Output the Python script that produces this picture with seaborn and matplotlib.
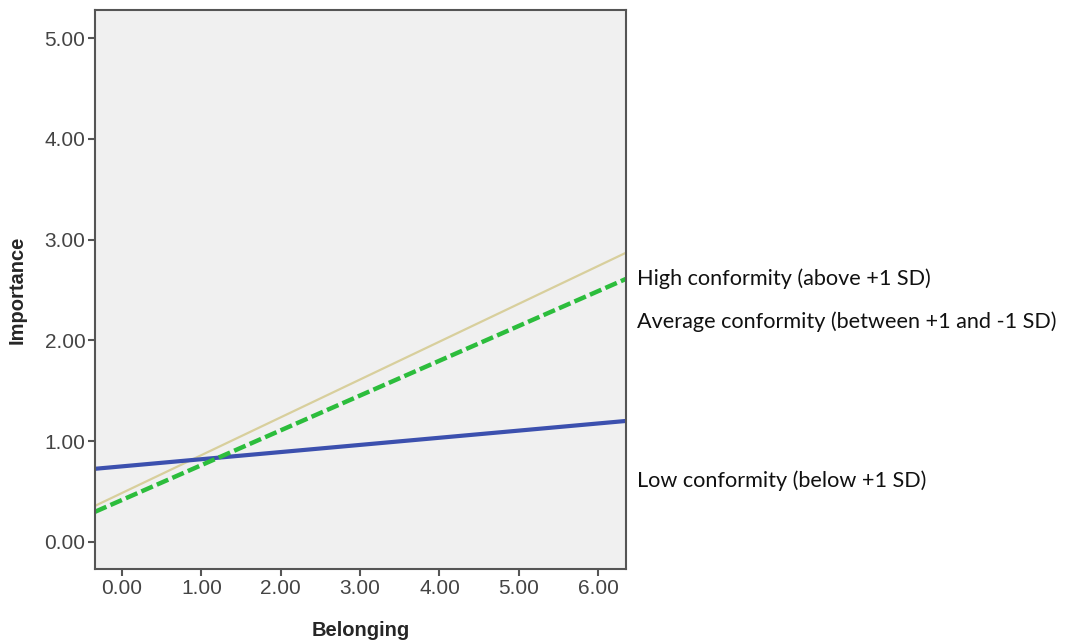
import pandas as pd
import numpy as np
import seaborn as sns
import matplotlib.pyplot as plt

# valores (extremos de cada reta)
belonging = [-0.34, 6.35]
low_conf = [0.725, 1.20]
high_conf = [0.357, 2.87]
avg_conf = [0.298, 2.61]

rotulos = ["High conformity (above +1 SD)",
           "Average conformity (between +1 and -1 SD)",
           "Low conformity (below +1 SD)"]
rotulos_y = [2.61, 2.185, 0.606]

yticks = [0, 1, 2, 3, 4, 5]
xticks = [0, 1, 2, 3, 4, 5, 6]

sns.set_style("ticks")
plt.rcParams['font.family'] = ['Liberation Sans', 'DejaVu Sans']

fig = plt.figure(figsize=(10.66, 6.41), dpi=100)
ax = fig.add_axes([0.0891, 0.1123, 0.4981, 0.8721])
ax.set_facecolor("#f0f0f0")

dados = pd.DataFrame({"Belonging": belonging * 3,
                      "Importance": low_conf + high_conf + avg_conf,
                      "grupo": ["low"] * 2 + ["high"] * 2 + ["avg"] * 2})

sns.lineplot(data=dados[dados.grupo == "high"], x="Belonging", y="Importance",
             color="#d8cf9c", linewidth=1.6, ax=ax)
sns.lineplot(data=dados[dados.grupo == "low"], x="Belonging", y="Importance",
             color="#3c50ae", linewidth=3.0, ax=ax)
sns.lineplot(data=dados[dados.grupo == "avg"], x="Belonging", y="Importance",
             color="#2cbd3c", linewidth=3.2, ax=ax, linestyle=(0, (2.8, 1.0)))

ax.set_xlim(-0.34, 6.35)
ax.set_ylim(-0.27, 5.28)
ax.set_xticks(xticks)
ax.set_yticks(yticks)
ax.set_xticklabels([f"{v:.2f}" for v in xticks])
ax.set_yticklabels([f"{v:.2f}" for v in yticks])
ax.tick_params(length=5, width=1.5, color="#555555", labelcolor="#444444",
               labelsize=15, pad=2)
for s in ax.spines.values():
    s.set_color("#555555")
    s.set_linewidth(1.5)

ax.set_xlabel("Belonging", fontsize=14.5, fontweight="bold", labelpad=17)
ax.set_ylabel("Importance", fontsize=14.5, fontweight="bold", labelpad=13)

for txt, yy in zip(rotulos, rotulos_y):
    ax.annotate(txt, xy=(6.486, yy), xycoords="data", va="center", ha="left",
                fontsize=15.6, family=["Lato", "DejaVu Sans"], color="#111111",
                annotation_clip=False)

fig.savefig("out.png", dpi=100)
